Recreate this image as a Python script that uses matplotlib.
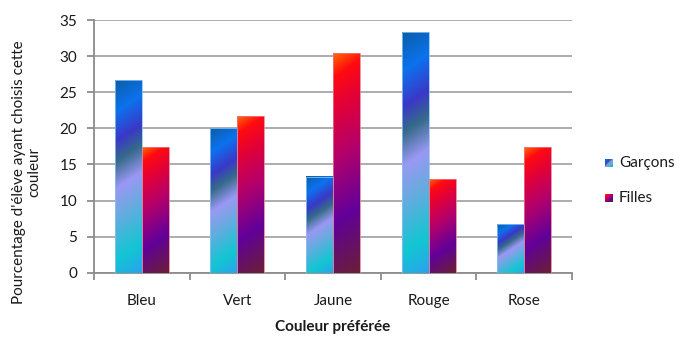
import numpy as np
import matplotlib
matplotlib.use("Agg")
import matplotlib.pyplot as plt
from matplotlib.colors import LinearSegmentedColormap
from matplotlib.patches import Rectangle

plt.rcParams['font.family'] = ['Lato', 'DejaVu Sans']

# Data
categories = ["Bleu", "Vert", "Jaune", "Rouge", "Rose"]
garcons = [26.7, 20.0, 13.3, 33.3, 6.7]
filles = [17.4, 21.7, 30.4, 13.0, 17.4]
series_names = ["Garçons", "Filles"]
y_ticks = [0, 5, 10, 15, 20, 25, 30, 35]

# Gradient fills for each series (top-left -> bottom-right)
cmap_boys = LinearSegmentedColormap.from_list("boys", [
    (0.00, "#0b5ea6"), (0.15, "#0c72ee"), (0.29, "#3a38c8"),
    (0.39, "#356a8a"), (0.52, "#9a98f4"), (0.65, "#6aaae0"),
    (0.86, "#12c6d2"), (1.00, "#2aa2ee")])
cmap_girls = LinearSegmentedColormap.from_list("girls", [
    (0.00, "#ff6a00"), (0.10, "#ff0a10"), (0.25, "#e0003a"),
    (0.45, "#b4006a"), (0.72, "#62009a"), (1.00, "#6a2034")])

W, H = 688, 337
fig = plt.figure(figsize=(W / 100, H / 100), dpi=100)
ax = fig.add_axes([94 / W, (H - 272.7) / H, 478 / W, 252.7 / H])

bar_w = 0.282
px_per_cat = 478 / 5
px_per_unit = 252.7 / 35
slant = 0.65


def gradient_bar(ax, x0, val, cmap, edge):
    w_px = bar_w * px_per_cat
    h_px = val * px_per_unit
    ny = max(int(h_px * 2), 2)
    nx = max(int(w_px * 2), 2)
    v = np.linspace(0, 1, ny)[:, None]
    u = np.linspace(0, 1, nx)[None, :]
    t = (v * h_px + slant * u * w_px) / (h_px + slant * w_px)
    ax.imshow(t, cmap=cmap, vmin=0, vmax=1, extent=(x0, x0 + bar_w, 0, val),
              origin='upper', aspect='auto', interpolation='bilinear', zorder=3)
    ax.add_patch(Rectangle((x0, 0), bar_w, val, fill=False, edgecolor=edge,
                           lw=0.7, alpha=0.8, zorder=4))


for i, (g, f) in enumerate(zip(garcons, filles)):
    gradient_bar(ax, i - bar_w, g, cmap_boys, "#8cc4f4")
    gradient_bar(ax, i, f, cmap_girls, "#e87890")

ax.set_xlim(-0.5, 4.5)
ax.set_ylim(0, 35)

axis_col = "#8c8c8c"
ax.set_yticks(y_ticks)
ax.yaxis.grid(True, color="#a6a6a6", lw=1.3)
ax.set_axisbelow(True)
for s in ["top", "right"]:
    ax.spines[s].set_visible(False)
for s in ["left", "bottom"]:
    ax.spines[s].set_color(axis_col)
    ax.spines[s].set_linewidth(1.3)

ax.tick_params(axis='y', direction='out', length=5, width=1.3, color=axis_col,
               labelsize=11, pad=7, labelcolor="#1a1a1a")
ax.set_xticks(np.arange(-0.5, 5, 1))
ax.set_xticklabels([])
ax.tick_params(axis='x', which='major', direction='out', length=5, width=1.3,
               color=axis_col)
ax.set_xticks(range(len(categories)), minor=True)
ax.set_xticklabels(categories, minor=True)
ax.tick_params(axis='x', which='minor', length=0, pad=15, labelsize=11,
               labelcolor="#1a1a1a")

fig.text(333 / W, 1 - 327 / H, "Couleur préférée", ha='center', va='center',
         fontsize=11, fontweight='bold', color="#1a1a1a")
fig.text(27 / W, 1 - 172 / H, "Pourcentage d'élève ayant choisis cette\ncouleur",
         rotation=90, ha='center', va='center', multialignment='center',
         fontsize=11, color="#1a1a1a", linespacing=1.15)

# Legend keys with the same gradients
for name, cmap, yc in [(series_names[0], cmap_boys, 163), (series_names[1], cmap_girls, 198)]:
    kax = fig.add_axes([605 / W, 1 - (yc + 4) / H, 8 / W, 8 / H])
    uu = np.linspace(0, 1, 16)
    kk = (uu[:, None] + uu[None, :]) / 2
    kax.imshow(kk, cmap=cmap, vmin=0, vmax=1, aspect='auto', interpolation='bilinear')
    kax.axis('off')
    fig.text(619 / W, 1 - yc / H, name, ha='left', va='center', fontsize=11,
             color="#1a1a1a")

fig.savefig("out.png", dpi=100, facecolor="white")
